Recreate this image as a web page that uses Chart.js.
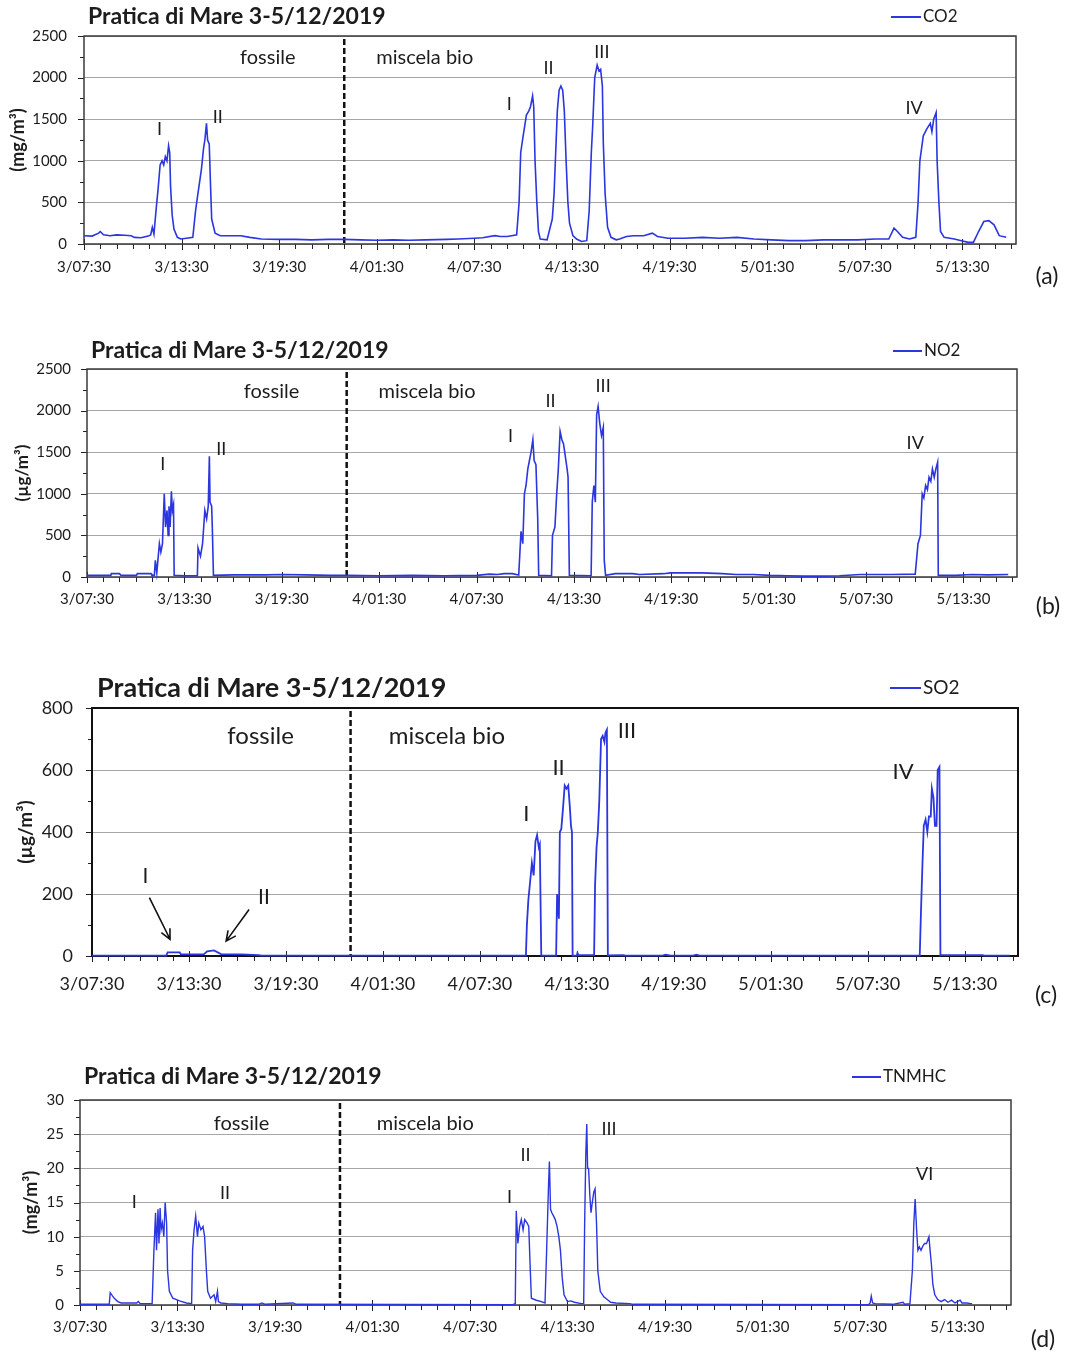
<!DOCTYPE html>
<html>
<head>
<meta charset="utf-8">
<script src="https://cdn.jsdelivr.net/npm/chart.js@4.4.1/dist/chart.umd.min.js"></script>
<style>
body { margin: 0; background: #fff; width: 1072px; height: 1355px; position: relative; overflow: hidden; }
.panel { position: absolute; left: 0; width: 1072px; }
</style>
</head>
<body>
<div class="panel" style="top:0px;height:300px"><canvas id="chartA"></canvas></div>
<div class="panel" style="top:330px;height:300px"><canvas id="chartB"></canvas></div>
<div class="panel" style="top:665px;height:345px"><canvas id="chartC"></canvas></div>
<div class="panel" style="top:1055px;height:300px"><canvas id="chartD"></canvas></div>
<script>
// hours counted from 3/12 07:30
const tickLabels = ['3/07:30', '3/13:30', '3/19:30', '4/01:30', '4/07:30', '4/13:30', '4/19:30', '5/01:30', '5/07:30', '5/13:30'];

const co2Hours = [0, 0.5, 0.9, 1.0, 1.2, 1.6, 2.0, 2.5, 2.9, 3.1, 3.5, 3.95, 4.1, 4.2, 4.3, 4.45, 4.55, 4.68, 4.8, 4.9, 5.0, 5.1, 5.2, 5.27, 5.32, 5.42, 5.53, 5.74, 5.95, 6.3, 6.69, 6.86, 7.0, 7.22, 7.35, 7.43, 7.53, 7.6, 7.7, 7.78, 7.85, 8.06, 8.38, 9.0, 9.64, 10.2, 10.9, 12.0, 13.0, 14.0, 15.0, 16.0, 17.0, 18.0, 19.0, 20.0, 21.0, 22.3, 23.0, 24.0, 24.5, 25.25, 25.6, 26.0, 26.3, 26.6, 26.75, 26.85, 27.0, 27.2, 27.35, 27.45, 27.58, 27.65, 27.73, 27.84, 27.94, 28.05, 28.47, 28.79, 28.9, 29.0, 29.1, 29.21, 29.32, 29.43, 29.53, 29.64, 29.75, 29.85, 30.06, 30.28, 30.59, 30.91, 31.06, 31.19, 31.27, 31.4, 31.55, 31.66, 31.76, 31.87, 31.93, 32.04, 32.19, 32.4, 32.72, 32.93, 33.35, 33.78, 34.41, 34.94, 35.26, 35.9, 36.96, 38.02, 39.08, 40.14, 41.2, 42.27, 43.33, 44.39, 45.45, 46.51, 47.57, 48.63, 49.48, 49.8, 50.01, 50.33, 50.75, 51.14, 51.28, 51.39, 51.6, 51.81, 52.03, 52.13, 52.24, 52.39, 52.45, 52.56, 52.66, 52.88, 53.51, 53.94, 54.36, 54.68, 55.0, 55.32, 55.63, 55.95, 56.27, 56.7];
const co2Values = [100, 95, 130, 150, 110, 100, 110, 105, 100, 80, 75, 95, 110, 200, 120, 450, 650, 950, 1000, 950, 1050, 1000, 1180, 1100, 700, 350, 180, 80, 60, 70, 80, 400, 600, 900, 1150, 1250, 1450, 1250, 1200, 700, 300, 130, 100, 100, 100, 80, 60, 55, 55, 50, 55, 55, 50, 45, 50, 45, 50, 55, 60, 70, 75, 100, 90, 90, 100, 110, 500, 1100, 1300, 1550, 1600, 1650, 1780, 1650, 1000, 500, 150, 60, 50, 300, 600, 1100, 1600, 1850, 1900, 1850, 1600, 1000, 500, 250, 100, 60, 30, 40, 400, 1100, 1400, 2000, 2150, 2080, 2100, 1900, 1200, 600, 200, 80, 50, 60, 90, 100, 100, 130, 90, 70, 70, 80, 70, 80, 60, 50, 40, 40, 50, 50, 50, 60, 60, 190, 150, 80, 60, 80, 500, 1000, 1300, 1380, 1450, 1350, 1500, 1580, 1000, 500, 150, 80, 60, 40, 20, 20, 150, 270, 280, 230, 100, 80];

const no2Hours = [0, 1.47, 1.5, 2.0, 2.1, 3.05, 3.1, 3.95, 4.0, 4.15, 4.21, 4.3, 4.46, 4.55, 4.65, 4.76, 4.84, 4.93, 5.0, 5.05, 5.12, 5.2, 5.26, 5.33, 5.37, 6.0, 6.8, 6.84, 6.99, 7.12, 7.26, 7.37, 7.47, 7.54, 7.58, 7.68, 7.72, 7.79, 9.0, 11.0, 12.0, 13.5, 15.0, 16.0, 18.0, 20.0, 22.0, 24.0, 24.8, 25.3, 25.7, 26.2, 26.6, 26.74, 26.85, 26.95, 27.05, 27.16, 27.26, 27.36, 27.47, 27.55, 27.66, 27.77, 27.83, 28.62, 28.68, 28.83, 28.94, 29.04, 29.15, 29.26, 29.36, 29.47, 29.58, 29.64, 29.72, 31.06, 31.13, 31.23, 31.32, 31.4, 31.49, 31.59, 31.7, 31.81, 31.87, 31.95, 32.55, 33.61, 34.04, 35.52, 35.95, 36.8, 37.86, 39.13, 39.98, 41.05, 42.11, 43.17, 44.23, 45.29, 46.36, 47.63, 48.48, 49.54, 51.03, 51.2, 51.35, 51.46, 51.56, 51.67, 51.78, 51.88, 51.99, 52.09, 52.2, 52.3, 52.41, 52.45, 53.5, 54.5, 55.5, 56.76];
const no2Values = [20, 20, 40, 40, 20, 20, 40, 40, 20, 20, 200, 50, 400, 300, 400, 1000, 600, 800, 500, 850, 600, 1030, 800, 870, 20, 15, 15, 350, 250, 400, 800, 700, 850, 1450, 900, 850, 600, 20, 25, 25, 30, 25, 20, 20, 15, 20, 15, 20, 35, 30, 40, 40, 25, 550, 400, 1000, 1100, 1300, 1400, 1500, 1650, 1400, 1350, 700, 20, 15, 500, 600, 1000, 1300, 1750, 1650, 1600, 1450, 1300, 1200, 20, 15, 900, 1100, 900, 1950, 2050, 1850, 1700, 1800, 200, 20, 40, 40, 30, 40, 50, 50, 50, 40, 30, 30, 20, 15, 10, 10, 15, 30, 30, 30, 35, 400, 500, 1000, 950, 1100, 1050, 1200, 1150, 1300, 1200, 1300, 1380, 20, 20, 30, 25, 30];

const so2Hours = [0, 4.6, 4.68, 5.43, 5.5, 6.91, 7.13, 7.55, 7.98, 9.26, 10.3, 10.5, 26.85, 26.91, 27.0, 27.13, 27.22, 27.33, 27.44, 27.54, 27.65, 27.71, 27.8, 28.72, 28.78, 28.89, 28.95, 29.04, 29.15, 29.25, 29.36, 29.47, 29.57, 29.64, 29.7, 29.74, 30.0, 30.04, 30.1, 31.07, 31.13, 31.22, 31.3, 31.39, 31.5, 31.6, 31.71, 31.77, 31.86, 31.92, 32.88, 33.0, 35.3, 35.5, 35.8, 37.2, 37.4, 37.6, 51.15, 51.22, 51.3, 51.39, 51.47, 51.58, 51.69, 51.79, 51.9, 51.97, 52.07, 52.16, 52.26, 52.33, 52.44, 52.5, 52.54, 55.11, 55.2, 56.8];
const so2Values = [1, 1, 12, 12, 5, 5, 15, 18, 6, 5, 3, 1, 1, 100, 180, 250, 300, 260, 370, 390, 350, 360, 1, 1, 200, 120, 400, 410, 480, 550, 540, 550, 480, 420, 400, 1, 2, 10, 3, 3, 230, 350, 400, 500, 700, 710, 690, 720, 730, 2, 3, 1, 1, 4, 1, 1, 4, 1, 1, 1, 150, 300, 420, 440, 400, 450, 450, 540, 510, 420, 420, 600, 610, 2, 3, 3, 1, 1];

const tnmhcHours = [0, 1.8, 1.86, 2.01, 2.11, 2.33, 2.54, 3.49, 3.59, 3.7, 4.44, 4.55, 4.65, 4.71, 4.8, 4.86, 4.93, 4.99, 5.07, 5.16, 5.24, 5.33, 5.39, 5.5, 5.71, 6.13, 6.55, 6.87, 6.93, 7.02, 7.12, 7.23, 7.31, 7.44, 7.57, 7.67, 7.78, 7.86, 8.03, 8.25, 8.35, 8.46, 8.52, 8.67, 9.09, 9.94, 10.99, 11.2, 11.4, 13.11, 13.32, 26.64, 26.79, 26.85, 26.95, 27.06, 27.16, 27.27, 27.37, 27.52, 27.62, 27.7, 27.78, 28.08, 28.4, 28.62, 28.72, 28.83, 28.89, 28.96, 29.04, 29.15, 29.25, 29.36, 29.47, 29.57, 29.68, 29.79, 30.0, 30.21, 30.43, 30.85, 31.0, 31.06, 31.13, 31.19, 31.24, 31.3, 31.38, 31.45, 31.53, 31.62, 31.7, 31.79, 31.87, 32.02, 32.24, 32.45, 32.66, 32.98, 33.83, 34.05, 48.53, 48.63, 48.7, 48.78, 48.95, 50.02, 50.66, 50.76, 51.08, 51.23, 51.32, 51.4, 51.49, 51.57, 51.66, 51.76, 51.85, 51.98, 52.1, 52.25, 52.32, 52.4, 52.49, 52.61, 52.79, 53.0, 53.21, 53.42, 53.64, 53.85, 54.17, 54.28, 54.6, 54.81, 54.91];
const tnmhcValues = [0.1, 0.1, 1.8, 1.3, 1.0, 0.5, 0.3, 0.3, 0.5, 0.2, 0.2, 8, 13.5, 8, 14, 9, 14.2, 11, 12, 10, 15, 12, 5, 2, 1, 0.6, 0.3, 0.2, 8, 11, 13, 10, 12, 11, 11.5, 10, 5, 2, 1, 1.5, 0.5, 2, 0.5, 0.3, 0.2, 0.1, 0.1, 0.3, 0.1, 0.3, 0.1, 0.05, 0.2, 13.8, 9, 11.5, 12.5, 11, 12.5, 12, 11.5, 6, 1, 0.7, 0.5, 0.3, 8, 17, 21, 14, 13.5, 13, 12.5, 11.5, 10, 8, 4, 1.5, 0.5, 0.6, 0.4, 0.2, 0.2, 12, 22, 26.5, 20, 20, 16, 13.5, 15, 16.5, 17, 12, 5, 2, 1.2, 0.8, 0.4, 0.3, 0.2, 0.1, 0.05, 0.3, 1.3, 0.3, 0.2, 0.1, 0.4, 0.1, 0.2, 5, 12, 15.5, 11, 8, 8.5, 8, 8.5, 9, 9, 10, 8, 6, 3, 1.5, 0.8, 0.5, 0.8, 0.4, 0.7, 0.3, 0.7, 0.3, 0.3, 0.2, 0.2];

const LINE_BLUE = '#2b35e0';
const TEXT = '#1c1c1c';
const FONT = 'Lato, "Open Sans", sans-serif';

function pts(hours, values) {
    return hours.map((h, i) => ({ x: h, y: values[i] }));
}

const decor = {
    id: 'decor',
    beforeDatasetsDraw(chart, args, o) {
        const ctx = chart.ctx;
        const a = chart.chartArea;
        const xs = chart.scales.x, ys = chart.scales.y;
        ctx.save();
        ctx.strokeStyle = '#222';
        ctx.lineWidth = 1;
        // hour ticks on the time axis
        for (let h = 0; h <= Math.floor(xs.max); h++) {
            const px = Math.round(xs.getPixelForValue(h)) + 0.5;
            const major = h % 6 === 0;
            ctx.beginPath();
            ctx.moveTo(px, a.bottom + (major ? -5 : 0));
            ctx.lineTo(px, a.bottom + (major ? 6 : 5));
            ctx.stroke();
        }
        // value ticks
        for (let v = 0; v <= ys.max + 1e-9; v += o.yStep / 2) {
            const py = Math.round(ys.getPixelForValue(v)) + 0.5;
            const major = Math.abs(v / o.yStep - Math.round(v / o.yStep)) < 1e-6;
            ctx.beginPath();
            ctx.moveTo(a.left - (major ? 6 : 4), py);
            ctx.lineTo(a.left, py);
            ctx.stroke();
        }
        // frame
        ctx.strokeStyle = o.frameColor;
        ctx.lineWidth = o.frameWidth;
        ctx.strokeRect(a.left, a.top, a.right - a.left, a.bottom - a.top);
        // fossile / miscela bio divider
        const dx = xs.getPixelForValue(o.divider);
        ctx.strokeStyle = '#111';
        ctx.lineWidth = 2.5;
        ctx.setLineDash([6, 3]);
        ctx.beginPath();
        ctx.moveTo(dx, a.top + 3);
        ctx.lineTo(dx, a.bottom);
        ctx.stroke();
        ctx.restore();
    },
    afterDatasetsDraw(chart, args, o) {
        const ctx = chart.ctx;
        const xs = chart.scales.x, ys = chart.scales.y;
        ctx.save();
        ctx.fillStyle = TEXT;
        ctx.textBaseline = 'middle';
        ctx.textAlign = 'center';
        o.notes.forEach(n => {
            ctx.font = n.s + 'px ' + FONT;
            ctx.fillText(n.t, xs.getPixelForValue(n.x), ys.getPixelForValue(n.y));
        });
        (o.arrows || []).forEach(ar => {
            const x1 = xs.getPixelForValue(ar.from[0]), y1 = ys.getPixelForValue(ar.from[1]);
            const x2 = xs.getPixelForValue(ar.to[0]), y2 = ys.getPixelForValue(ar.to[1]);
            const ang = Math.atan2(y2 - y1, x2 - x1);
            ctx.strokeStyle = '#111';
            ctx.lineWidth = 1.6;
            ctx.beginPath();
            ctx.moveTo(x1, y1);
            ctx.lineTo(x2, y2);
            ctx.moveTo(x2 - 11 * Math.cos(ang - 0.45), y2 - 11 * Math.sin(ang - 0.45));
            ctx.lineTo(x2, y2);
            ctx.lineTo(x2 - 11 * Math.cos(ang + 0.45), y2 - 11 * Math.sin(ang + 0.45));
            ctx.stroke();
        });
        // title, legend, panel letter (page coordinates minus panel top)
        const off = o.top;
        ctx.textAlign = 'left';
        ctx.font = 'bold ' + o.title.s + 'px ' + FONT;
        ctx.fillText('Pratica di Mare 3-5/12/2019', o.title.x, o.title.y - off);
        ctx.strokeStyle = LINE_BLUE;
        ctx.lineWidth = 2;
        ctx.beginPath();
        ctx.moveTo(o.legend.x1, o.legend.y - off);
        ctx.lineTo(o.legend.x2, o.legend.y - off);
        ctx.stroke();
        ctx.font = o.legend.s + 'px ' + FONT;
        ctx.fillText(chart.data.datasets[0].label, o.legend.x2 + 2, o.legend.y - off);
        ctx.textAlign = 'center';
        ctx.font = '23px ' + FONT;
        ctx.fillText(o.letter.t, o.letter.x, o.letter.y - off);
        ctx.restore();
    }
};

function makePanel(id, p) {
    const canvasH = p.height;
    new Chart(document.getElementById(id), {
        type: 'line',
        data: {
            datasets: [{
                label: p.label,
                data: p.data,
                borderColor: LINE_BLUE,
                borderWidth: p.lineWidth,
                pointRadius: 0,
                tension: 0,
                fill: false,
                clip: 4
            }]
        },
        options: {
            responsive: true,
            maintainAspectRatio: false,
            animation: false,
            events: [],
            layout: {
                padding: {
                    left: 0,
                    top: p.area.top - p.top,
                    right: 1072 - p.area.right,
                    bottom: p.top + canvasH - p.area.bottom - p.xH
                }
            },
            plugins: {
                legend: { display: false },
                title: { display: false },
                tooltip: { enabled: false },
                decor: {
                    top: p.top, yStep: p.yStep, divider: 16,
                    frameColor: p.frameColor, frameWidth: p.frameWidth,
                    notes: p.notes, arrows: p.arrows,
                    title: p.title, legend: p.legend, letter: p.letter
                }
            },
            scales: {
                x: {
                    type: 'linear',
                    min: 0,
                    max: 57.3,
                    afterFit: s => { s.height = p.xH; },
                    grid: { display: false, drawTicks: false },
                    border: { display: false },
                    ticks: {
                        stepSize: 1,
                        autoSkip: false,
                        maxRotation: 0,
                        padding: p.xPad,
                        color: TEXT,
                        font: { family: FONT, size: p.tickSize },
                        callback: v => (Number.isInteger(v) && v % 6 === 0 && tickLabels[v / 6]) ? tickLabels[v / 6] : ''
                    }
                },
                y: {
                    min: 0,
                    max: p.yMax,
                    afterFit: s => { s.width = p.area.left; },
                    grid: { color: '#a6a6a6', lineWidth: 1, drawTicks: false },
                    border: { display: false },
                    ticks: {
                        stepSize: p.yStep,
                        padding: p.yPad,
                        color: TEXT,
                        font: { family: FONT, size: p.tickSize },
                        callback: v => String(v)
                    },
                    title: {
                        display: true,
                        text: p.unit,
                        color: TEXT,
                        padding: { top: p.unitPad, bottom: 0 },
                        font: { family: FONT, size: p.unitSize, weight: 'bold' }
                    }
                }
            }
        },
        plugins: [decor]
    });
}

makePanel('chartA', {
    label: 'CO2', data: pts(co2Hours, co2Values), unit: '(mg/m³)',
    top: 0, height: 300, area: { left: 84, top: 36, right: 1016, bottom: 244 },
    xH: 40, xPad: 14, yPad: 17, tickSize: 15, yMax: 2500, yStep: 500,
    unitSize: 18, unitPad: 7, lineWidth: 1.6, frameColor: '#3a3a3a', frameWidth: 1.5,
    title: { x: 88, y: 17, s: 23 }, legend: { x1: 891, x2: 921, y: 17, s: 17 }, letter: { t: '(a)', x: 1047, y: 277 },
    notes: [
        { t: 'fossile', x: 11.3, y: 2236, s: 20 }, { t: 'miscela bio', x: 20.95, y: 2236, s: 20 },
        { t: 'I', x: 4.65, y: 1380, s: 18 }, { t: 'II', x: 8.22, y: 1530, s: 18 },
        { t: 'I', x: 26.15, y: 1680, s: 18 }, { t: 'II', x: 28.56, y: 2108, s: 18 },
        { t: 'III', x: 31.84, y: 2305, s: 18 }, { t: 'IV', x: 51.04, y: 1628, s: 18 }
    ]
});

makePanel('chartB', {
    label: 'NO2', data: pts(no2Hours, no2Values), unit: '(µg/m³)',
    top: 330, height: 300, area: { left: 87, top: 369, right: 1017, bottom: 577 },
    xH: 40, xPad: 13, yPad: 16, tickSize: 15, yMax: 2500, yStep: 500,
    unitSize: 17, unitPad: 12, lineWidth: 1.6, frameColor: '#3a3a3a', frameWidth: 1.5,
    title: { x: 91, y: 351, s: 23 }, legend: { x1: 893, x2: 922, y: 351, s: 17 }, letter: { t: '(b)', x: 1048, y: 607 },
    notes: [
        { t: 'fossile', x: 11.37, y: 2228, s: 20 }, { t: 'miscela bio', x: 20.95, y: 2228, s: 20 },
        { t: 'I', x: 4.67, y: 1360, s: 18 }, { t: 'II', x: 8.27, y: 1532, s: 18 },
        { t: 'I', x: 26.1, y: 1688, s: 18 }, { t: 'II', x: 28.56, y: 2112, s: 18 },
        { t: 'III', x: 31.8, y: 2292, s: 18 }, { t: 'IV', x: 51.03, y: 1612, s: 18 }
    ]
});

makePanel('chartC', {
    label: 'SO2', data: pts(so2Hours, so2Values), unit: '(µg/m³)',
    top: 665, height: 345, area: { left: 92, top: 708, right: 1018, bottom: 956 },
    xH: 45, xPad: 17, yPad: 19, tickSize: 18, yMax: 800, yStep: 200,
    unitSize: 19, unitPad: 14, lineWidth: 1.8, frameColor: '#111', frameWidth: 2,
    title: { x: 97, y: 688, s: 27 }, legend: { x1: 890, x2: 921, y: 688, s: 19 }, letter: { t: '(c)', x: 1046, y: 996 },
    notes: [
        { t: 'fossile', x: 10.43, y: 710, s: 24 }, { t: 'miscela bio', x: 21.96, y: 710, s: 24 },
        { t: 'I', x: 3.3, y: 258, s: 21 }, { t: 'II', x: 10.64, y: 190, s: 21 },
        { t: 'I', x: 26.87, y: 457, s: 22 }, { t: 'II', x: 28.87, y: 608, s: 22 },
        { t: 'III', x: 33.1, y: 725, s: 22 }, { t: 'IV', x: 50.19, y: 595, s: 22 }
    ],
    arrows: [
        { from: [3.55, 188], to: [4.83, 54] },
        { from: [9.72, 150], to: [8.3, 48] }
    ]
});

makePanel('chartD', {
    label: 'TNMHC', data: pts(tnmhcHours, tnmhcValues), unit: '(mg/m³)',
    top: 1055, height: 300, area: { left: 80, top: 1100, right: 1011, bottom: 1305 },
    xH: 40, xPad: 13, yPad: 16, tickSize: 15, yMax: 30, yStep: 5,
    unitSize: 18, unitPad: 20, lineWidth: 1.4, frameColor: '#3a3a3a', frameWidth: 1.5,
    title: { x: 84, y: 1077, s: 23 }, legend: { x1: 852, x2: 881, y: 1077, s: 17 }, letter: { t: '(d)', x: 1043, y: 1340 },
    notes: [
        { t: 'fossile', x: 9.94, y: 26.5, s: 20 }, { t: 'miscela bio', x: 21.25, y: 26.5, s: 20 },
        { t: 'I', x: 3.34, y: 15.0, s: 18 }, { t: 'II', x: 8.92, y: 16.3, s: 18 },
        { t: 'I', x: 26.43, y: 15.8, s: 18 }, { t: 'II', x: 27.42, y: 21.9, s: 18 },
        { t: 'III', x: 32.56, y: 25.8, s: 18 }, { t: 'VI', x: 51.98, y: 19.2, s: 18 }
    ]
});
</script>
</body>
</html>
